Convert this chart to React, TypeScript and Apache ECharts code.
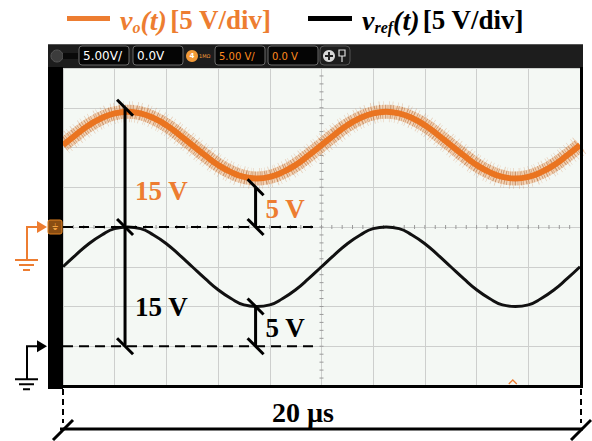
import React, { useEffect, useRef } from "react";
import * as echarts from "echarts";

// time axis, microseconds (2 µs/div, 10 divisions)
const timeUs = [
  0, 0.5, 1, 1.5, 2, 2.5, 3, 3.5, 4, 4.5, 5, 5.5, 6, 6.5, 7, 7.5, 8, 8.5, 9, 9.5,
  10, 10.5, 11, 11.5, 12, 12.5, 13, 13.5, 14, 14.5, 15, 15.5, 16, 16.5, 17, 17.5, 18, 18.5, 19, 19.5, 20,
];
// reference voltage v_ref(t), volts
const vRef = [
  10.0, 11.5, 12.9, 14.0, 14.8, 15.0, 14.8, 14.0, 12.9, 11.5, 10.0, 8.5, 7.1, 6.0, 5.2, 5.0, 5.2, 6.0, 7.1, 8.5,
  10.0, 11.5, 12.9, 14.0, 14.8, 15.0, 14.8, 14.0, 12.9, 11.5, 10.0, 8.5, 7.1, 6.0, 5.2, 5.0, 5.2, 6.0, 7.1, 8.5, 10.0,
];
// output voltage v_o(t), volts (trace centre, without switching ripple)
const vOut = [
  10.3, 11.6, 12.8, 13.7, 14.3, 14.5, 14.3, 13.7, 12.8, 11.6, 10.3, 9.0, 7.8, 6.9, 6.3, 6.1, 6.3, 6.9, 7.8, 9.0,
  10.3, 11.6, 12.8, 13.7, 14.3, 14.5, 14.3, 13.7, 12.8, 11.6, 10.3, 9.0, 7.8, 6.9, 6.3, 6.1, 6.3, 6.9, 7.8, 9.0, 10.3,
];
// screen scale: black channel ground at 0 V, 5 V/div, 8 divisions
const Y_MIN = -5;
const Y_MAX = 35;
const Y_INTERVAL = 5;
const X_MIN = 0;
const X_MAX = 20;
const X_INTERVAL = 2;
const ORANGE_GROUND = 15; // orange channel ground sits 3 div above black ground

const ORANGE = "#ED7D31";
const SERIF = "'Liberation Serif', 'Times New Roman', serif";
const SANS = "'DejaVu Sans', sans-serif";

export default function App() {
  const ref = useRef<HTMLDivElement>(null);
  useEffect(() => {
    const chart = echarts.init(ref.current!, null, { renderer: "svg" });
    const refData = timeUs.map((t, i) => [t, vRef[i]]);
    const outData = timeUs.map((t, i) => [t, vOut[i] + ORANGE_GROUND]);
    const trace = (z: number, lineStyle: any) => ({
      type: "line",
      data: outData,
      smooth: true,
      showSymbol: false,
      silent: true,
      z,
      lineStyle,
    });
    chart.setOption({
      animation: false,
      grid: {
        left: 63,
        right: 12,
        top: 68,
        bottom: 55,
        show: true,
        backgroundColor: "#f4f8f4",
        borderWidth: 0,
      },
      xAxis: {
        type: "value",
        min: X_MIN,
        max: X_MAX,
        interval: X_INTERVAL,
        axisLine: { show: false },
        axisTick: { show: false },
        axisLabel: { show: false },
        splitLine: { lineStyle: { color: "#cdcfcd", width: 1 } },
      },
      yAxis: {
        type: "value",
        min: Y_MIN,
        max: Y_MAX,
        interval: Y_INTERVAL,
        axisLine: { show: false },
        axisTick: { show: false },
        axisLabel: { show: false },
        splitLine: { lineStyle: { color: "#cdcfcd", width: 1 } },
      },
      series: [
        trace(2, { color: "rgba(205,120,60,0.35)", width: 21, type: [0.6, 3, 0.6, 5, 0.7, 2.2, 0.5, 4] }),
        trace(3, { color: "rgba(245,170,110,0.45)", width: 14 }),
        trace(3, { color: "rgba(150,70,20,0.45)", width: 14, type: [0.8, 1.3, 0.6, 2, 1, 1.5, 0.7, 2.4] }),
        trace(4, { color: "#EA7420", width: 6 }),
        {
          type: "line",
          data: refData,
          smooth: true,
          showSymbol: false,
          silent: true,
          z: 5,
          lineStyle: { color: "#111111", width: 3 },
        },
      ],
    });

    const px = (t: number, v: number) => chart.convertToPixel({ gridIndex: 0 }, [t, v]) as number[];
    const [x0, y0] = px(X_MIN, Y_MAX);
    const [x1, y1] = px(X_MAX, Y_MIN);
    const g: any[] = [];
    const Z = 20;
    const line = (ax: number, ay: number, bx: number, by: number, stroke: string, w: number, dash?: number[], z = Z) =>
      g.push({ type: "line", z, shape: { x1: ax, y1: ay, x2: bx, y2: by }, style: { stroke, lineWidth: w, lineDash: dash } });
    const text = (x: number, y: number, s: string, style: any, z = Z) =>
      g.push({ type: "text", z, x, y, style: { text: s, ...style } });

    // minor ticks on centre lines
    const xc = (x0 + x1) / 2;
    const yc = px(0, 15)[1];
    for (let k = 1; k < 40; k++) {
      const yy = y0 + ((y1 - y0) * k) / 40;
      line(xc - 2, yy, xc + 2, yy, "#9a9a9a", 1, undefined, 1);
    }
    for (let k = 1; k < 50; k++) {
      const xx = x0 + ((x1 - x0) * k) / 50;
      line(xx, yc - 2, xx, yc + 2, "#9a9a9a", 1, undefined, 1);
    }

    // scope frame
    g.push({ type: "rect", z: 8, shape: { x: x0 - 15, y: 44, width: x1 - x0 + 18, height: y0 - 44 }, style: { fill: "#1d1d1d" } });
    g.push({ type: "rect", z: 8, shape: { x: x0 - 15, y: 44, width: x1 - x0 + 18, height: 1 }, style: { fill: "#555" } });
    g.push({ type: "rect", z: 8, shape: { x: x0 - 15, y: y0 - 1, width: 15, height: y1 - y0 + 4 }, style: { fill: "#000" } });
    g.push({ type: "rect", z: 8, shape: { x: x0 - 15, y: y1 - 1, width: x1 - x0 + 18, height: 3 }, style: { fill: "#000" } });
    g.push({ type: "rect", z: 8, shape: { x: x1, y: y0 - 1, width: 3, height: y1 - y0 + 3 }, style: { fill: "#000" } });

    // top bar widgets
    g.push({ type: "circle", z: 9, shape: { cx: 57, cy: 56, r: 6 }, style: { fill: "#3c3c3c", stroke: "#555" } });
    g.push({ type: "rect", z: 9, shape: { x: 63, y: 53, width: 15, height: 6 }, style: { fill: "#0a0a0a" } });
    const box = (x: number, w: number, s: string, color: string, size: number) => {
      g.push({ type: "rect", z: 9, shape: { x, y: 46, width: w, height: 19, r: 3 }, style: { fill: "#050505", stroke: "#6a6a6a", lineWidth: 1 } });
      text(x + 4, 56, s, { fill: color, font: `${size}px ${SANS}`, verticalAlign: "middle" }, 10);
    };
    box(79, 50, "5.00V/", "#ffffff", 12);
    box(133, 50, "0.0V", "#ffffff", 12);
    g.push({ type: "circle", z: 9, shape: { cx: 192, cy: 56, r: 6 }, style: { fill: "#f29a38" } });
    text(192, 56, "4", { fill: "#fff", font: `bold 7px ${SANS}`, align: "center", verticalAlign: "middle" }, 10);
    text(199, 56, "1MΩ", { fill: "#f29a38", font: `5px ${SANS}`, verticalAlign: "middle" }, 10);
    box(215, 50, "5.00 V/", "#ff8a1e", 10);
    box(268, 50, "0.0 V", "#ff8a1e", 10);
    g.push({ type: "rect", z: 9, shape: { x: 320, y: 46, width: 30, height: 19, r: 4 }, style: { fill: "none", stroke: "#555", lineWidth: 1 } });
    g.push({ type: "circle", z: 9, shape: { cx: 329, cy: 56, r: 6 }, style: { fill: "#d8d8d8" } });
    line(325, 56, 333, 56, "#222", 2, undefined, 10);
    line(329, 52, 329, 60, "#222", 2, undefined, 10);
    g.push({ type: "rect", z: 9, shape: { x: 339, y: 50, width: 6, height: 6 }, style: { fill: "none", stroke: "#ddd", lineWidth: 1.2 } });
    line(342, 56, 342, 62, "#ddd", 1.2, undefined, 10);

    // orange channel marker on left bar
    const [, yOg] = px(0, ORANGE_GROUND);
    const [, yBg] = px(0, 0);
    g.push({ type: "rect", z: 9, shape: { x: x0 - 15, y: yOg - 7, width: 14, height: 14, r: 2 }, style: { fill: "#8a4d12", stroke: "#e0801f", lineWidth: 1 } });
    text(x0 - 8, yOg, "⏚", { fill: "#f0a040", font: `9px ${SANS}`, align: "center", verticalAlign: "middle" }, 10);

    // ground indicators
    const groundArrow = (yy: number, groundY: number, color: string) => {
      g.push({ type: "polyline", z: Z, shape: { points: [[27, groundY], [27, yy], [40, yy]] }, style: { stroke: color, lineWidth: 2, fill: "none" } });
      g.push({ type: "polygon", z: Z, shape: { points: [[37, yy - 6], [47, yy], [37, yy + 6]] }, style: { fill: color } });
      line(15, groundY, 38, groundY, color, 2);
      line(19, groundY + 5, 34, groundY + 5, color, 2);
      line(23, groundY + 10, 30, groundY + 10, color, 2);
    };
    groundArrow(yOg, yOg + 33, ORANGE);
    groundArrow(yBg, yBg + 33, "#000");

    // dashed ground lines
    const [xDashEnd] = px(9.9, 0);
    line(x0, yOg, xDashEnd, yOg, "#000", 2, [10, 6]);
    line(x0, yBg, xDashEnd, yBg, "#000", 2, [10, 6]);

    // dimension lines
    const slash = (x: number, y: number) => line(x - 8, y - 8, x + 8, y + 8, "#000", 3);
    const tBig = 2.4;
    const tSmall = 7.45;
    const [xb, yTop] = px(tBig, ORANGE_GROUND + 15);
    line(xb, yTop, xb, yBg, "#000", 3);
    slash(xb, yTop);
    slash(xb, yOg);
    slash(xb, yBg);
    const [xs, yO5] = px(tSmall, ORANGE_GROUND + 5);
    const [, yB5] = px(tSmall, 5);
    line(xs, yO5, xs, yOg, "#000", 3);
    line(xs, yB5, xs, yBg, "#000", 3);
    slash(xs, yO5);
    slash(xs, yOg);
    slash(xs, yB5);
    slash(xs, yBg);

    const lbl = (x: number, y: number, s: string, color: string) =>
      text(x, y, s, { fill: color, font: `bold 27px ${SERIF}`, verticalAlign: "middle" });
    lbl(xb + 10, px(0, ORANGE_GROUND + 4.5)[1], "15 V", ORANGE);
    lbl(xb + 10, px(0, 5)[1], "15 V", "#000");
    lbl(xs + 10, px(0, ORANGE_GROUND + 2.3)[1], "5 V", ORANGE);
    lbl(xs + 10, px(0, 2.3)[1], "5 V", "#000");

    // trigger marker
    const [xt] = px(17.4, 0);
    g.push({ type: "polyline", z: Z, shape: { points: [[xt - 4, y1 - 2], [xt, y1 - 6], [xt + 4, y1 - 2]] }, style: { stroke: ORANGE, lineWidth: 1.3, fill: "none" } });

    // 20 µs span
    const yDim = y1 + 43;
    line(x0, y1 + 3, x0, yDim - 6, "#000", 2, [6, 4]);
    line(x1 + 1, y1 + 3, x1 + 1, yDim - 6, "#000", 2, [6, 4]);
    line(x0 - 3, yDim, x1 + 3, yDim, "#000", 3);
    line(x0 - 10, yDim + 11, x0 + 10, yDim - 9, "#000", 3);
    line(x1 - 9, yDim + 11, x1 + 11, yDim - 9, "#000", 3);
    text(303, yDim - 17, "20 µs", { fill: "#000", font: `bold 28px ${SERIF}`, align: "center", verticalAlign: "middle" });

    // legend
    g.push({ type: "rect", z: Z, shape: { x: 67, y: 16, width: 43, height: 5 }, style: { fill: ORANGE } });
    g.push({ type: "rect", z: Z, shape: { x: 308, y: 16, width: 44, height: 5 }, style: { fill: "#000" } });
    const richFor = (color: string) => ({
      i: { fill: color, fontFamily: SERIF, fontStyle: "italic", fontWeight: "bold", fontSize: 28, lineHeight: 30 },
      s: { fill: color, fontFamily: SERIF, fontStyle: "italic", fontWeight: "bold", fontSize: 16, lineHeight: 30, verticalAlign: "bottom" },
      b: { fill: color, fontFamily: SERIF, fontWeight: "bold", fontSize: 27, lineHeight: 30 },
    });
    text(120, 20, "{i|v}{s|o}{i|(t)} {b|[5 V/div]}", { rich: richFor(ORANGE), verticalAlign: "middle" });
    text(362, 20, "{i|v}{s|ref}{i|(t)} {b|[5 V/div]}", { rich: richFor("#000"), verticalAlign: "middle" });

    chart.setOption({ graphic: g });
    return () => chart.dispose();
  }, []);
  return <div ref={ref} style={{ position: "absolute", left: 0, top: 0, width: 592, height: 441, background: "#fff" }} />;
}
